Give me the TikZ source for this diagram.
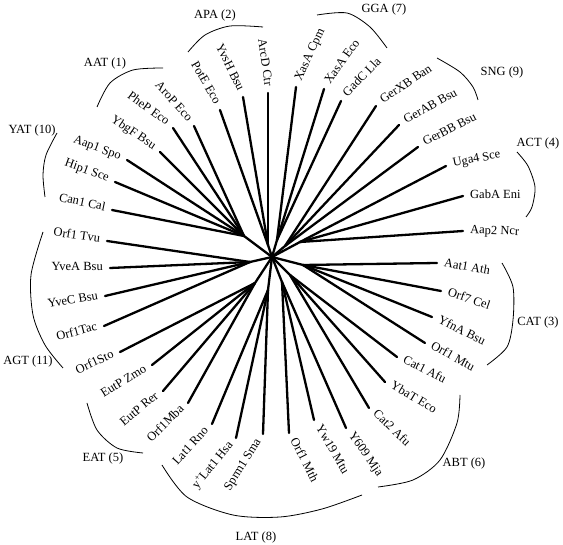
\documentclass[tikz,border=0pt]{standalone}
\usepackage{fontspec}
\setmainfont{Liberation Serif}
\usetikzlibrary{calc}
\tikzset{
  branch/.style={line width=2.3pt, line cap=round},
  clade/.style={line width=0.8pt},
  lbl/.style={font=\fontsize{12.5}{14}\selectfont, inner sep=0pt},
  grp/.style={font=\fontsize{12.5}{14}\selectfont, inner sep=0pt},
}
\newcommand\leafR[6]{%
  \coordinate (#1) at (#2,-#3);
  \draw[branch] (#4) -- (#1);
  \node[lbl, anchor=mid west, rotate=#5] (#1-t) at ($(#1)+(#5:7pt)$) {#6};}
\newcommand\leafL[6]{%
  \coordinate (#1) at (#2,-#3);
  \draw[branch] (#4) -- (#1);
  \node[lbl, anchor=mid east, rotate=#5] (#1-t) at ($(#1)+(#5+180:7pt)$) {#6};}
\begin{document}
\begin{tikzpicture}[x=1pt,y=1pt]
\useasboundingbox (0,0) rectangle (563,-545);
% centre and internal nodes
\coordinate (C) at (272,-257);
\coordinate (nAPA) at (268,-245);
\coordinate (nAAT) at (244,-236);
\coordinate (nAGT) at (250,-262);
\coordinate (nEAT) at (255,-283);
\coordinate (nLAT) at (268,-290);
\coordinate (nLow) at (282,-282);
\coordinate (nABT) at (290,-275);
\coordinate (nCAT) at (303,-265);
\coordinate (nACT) at (300,-242);
\coordinate (nSNG) at (285,-246);
\coordinate (nGGA) at (277,-240);
\foreach \n in {nAPA,nAAT,nAGT,nEAT,nLAT,nLow,nABT,nCAT,nACT,nSNG,nGGA}
  \draw[branch] (C) -- (\n);
% leaves, left side
\leafL{l1}{268}{93}{nAPA}{-82}{ArcD Ctr}
\leafL{l2}{243}{97}{nAPA}{-64}{YvsH Bsu}
\leafL{l3}{220}{110}{nAPA}{-60}{PotE Eco}
\leafL{l4}{194}{126}{nAAT}{-48}{AroP Eco}
\leafL{l5}{173}{128}{nAAT}{-36}{PheP Eco}
\leafL{l6}{160}{152}{nAAT}{-34}{YbgF Bsu}
\leafL{l7}{127}{160}{nAAT}{-20}{Aap1 Spo}
\leafL{l8}{115}{182}{nAAT}{-20}{Hip1 Sce}
\leafL{l9}{112}{210}{nAAT}{-12}{Can1 Cal}
\leafL{l10}{107}{241}{nAGT}{-8}{Orf1 Tvu}
\leafL{l11}{110}{268}{nAGT}{0}{YveA Bsu}
\leafL{l12}{105}{296}{nAGT}{9}{YveC Bsu}
\leafL{l13}{104}{326}{nAGT}{15}{Orf1Tac}
\leafL{l14}{120}{352}{nEAT}{25}{Orf1Sto}
\leafL{l15}{152}{365}{nEAT}{32}{EutP Zmo}
\leafL{l16}{163}{391}{nEAT}{40}{EutP Rer}
\leafL{l17}{188}{403}{nEAT}{45}{Orf1Mba}
\leafL{l18}{212}{424}{nLAT}{48}{Lat1 Rno}
\leafL{l19}{236}{438}{nLAT}{51}{y\textsuperscript{+}Lat1 Hsa}
\leafL{l20}{263}{434}{nLAT}{58}{Sprm1 Sma}
% leaves, right side
\leafR{r1}{289}{433}{nLow}{-63}{Orf1 Mth}
\leafR{r2}{314}{420}{nLow}{-60}{Yw19 Mtu}
\leafR{r3}{346}{428}{nLow}{-55}{Y609 Mja}
\leafR{r4}{369}{408}{nABT}{-44}{Cat2 Afu}
\leafR{r5}{385}{382}{nABT}{-31}{YbaT Eco}
\leafR{r6}{397}{357}{nABT}{-27}{Cat1 Afu}
\leafR{r7}{425}{343}{nCAT}{-29}{Orf1 Mtu}
\leafR{r8}{432}{317}{nCAT}{-27}{YfnA Bsu}
\leafR{r9}{441}{291}{nCAT}{-19}{Orf7 Cel}
\leafR{r10}{437}{263}{nCAT}{-10}{Aat1 Ath}
\leafR{r11}{463}{231}{nACT}{-2}{Aap2 Ncr}
\leafR{r12}{463}{196}{nACT}{0}{GabA Eni}
\leafR{r13}{446}{166}{nACT}{11}{Uga4 Sce}
\leafR{r14}{418}{147}{nSNG}{27}{GerBB Bsu}
\leafR{r15}{399}{125}{nSNG}{29}{GerAB Bsu}
\leafR{r16}{376}{106}{nSNG}{34}{GerXB Ban}
\leafR{r17}{341}{101}{nGGA}{46}{GadC Lla}
\leafR{r18}{324}{89}{nGGA}{54}{XasA Eco}
\leafR{r19}{296}{87}{nGGA}{65}{XasA Cpm}
% clade arcs
\draw[clade] plot[smooth] coordinates {(188,-52) (205,-35) (230,-26) (263,-27)};
\draw[clade] plot[smooth] coordinates {(97,-107) (110,-83) (133,-70) (163,-68)};
\draw[clade] plot[smooth] coordinates {(57,-133) (46,-155) (43,-175) (45,-197)};
\draw[clade] plot[smooth] coordinates {(43,-232) (31,-275) (33,-315) (45,-345) (63,-368)};
\draw[clade] plot[smooth] coordinates {(87,-403) (97,-430) (117,-448) (143,-453)};
\draw[clade] plot[smooth] coordinates {(162,-465) (187,-497) (233,-515) (280,-517) (322,-509) (362,-495)};
\draw[clade] plot[smooth] coordinates {(460,-395) (457,-423) (440,-460) (413,-480) (378,-487)};
\draw[clade] plot[smooth] coordinates {(502,-263) (513,-287) (513,-320) (507,-347) (487,-365)};
\draw[clade] plot[smooth] coordinates {(517,-152) (528,-166) (535,-187) (532,-207) (526,-217)};
\draw[clade] plot[smooth] coordinates {(437,-58) (460,-72) (473,-87) (478,-100)};
\draw[clade] plot[smooth] coordinates {(317,-15) (347,-13) (370,-27) (387,-48)};
% clade labels
\node[grp] (gAPA) at (215,-15) {APA (2)};
\node[grp] (gAAT) at (105,-63) {AAT (1)};
\node[grp] (gYAT) at (32,-130) {YAT (10)};
\node[grp] (gAGT) at (28,-361) {AGT (11)};
\node[grp] (gEAT) at (103,-458) {EAT (5)};
\node[grp] (gLAT) at (256,-537) {LAT (8)};
\node[grp] (gABT) at (464,-463) {ABT (6)};
\node[grp] (gCAT) at (538,-322) {CAT (3)};
\node[grp] (gACT) at (538,-143) {ACT (4)};
\node[grp] (gSNG) at (502,-72) {SNG (9)};
\node[grp] (gGGA) at (384,-9) {GGA (7)};
\end{tikzpicture}
\end{document}
